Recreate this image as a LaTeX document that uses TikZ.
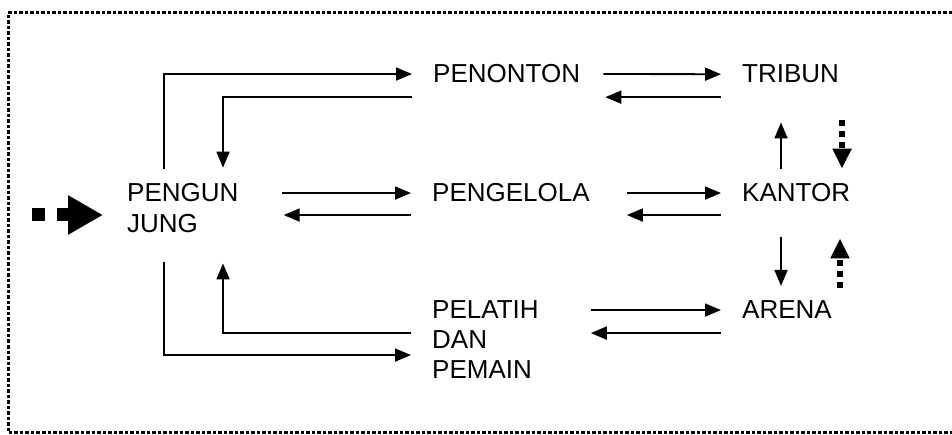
\documentclass[tikz,border=0pt]{standalone}
\usepackage{fontspec}
\setmainfont{Liberation Sans}
\usetikzlibrary{arrows.meta}
\begin{document}
\begin{tikzpicture}[x=1pt,y=-1pt,
  lbl/.style={anchor=base west, inner xsep=21pt, inner ysep=0pt,
    font=\fontsize{26pt}{30pt}\selectfont},
  arr/.style={line width=1.8pt, -{Triangle[length=16pt,width=13pt]}},
  dotarr/.style={line width=6pt, dash pattern=on 6pt off 5pt,
    -{Triangle[length=20pt,width=18pt]}},
  bigarr/.style={line width=13pt, dash pattern=on 13pt off 12pt,
    -{Triangle[length=35pt,width=37pt]}},
  frame/.style={line width=3pt, dash pattern=on 3.5pt off 2pt}
]
\useasboundingbox (0,0) rectangle (952,435);

% outer dotted frame (open on the right)
\draw[frame] (952,13) -- (8,13) -- (8,432) -- (952,432);

% labels
\node[lbl] (pg) at (106,202) {\vtop{\baselineskip=31pt\hbox{PENGUN}\hbox{JUNG}}};
\node[lbl] (pn) at (412,83) {PENONTON};
\node[lbl] (tr) at (721,83) {TRIBUN};
\node[lbl] (pl) at (411,202) {PENGELOLA};
\node[lbl] (ka) at (721,202) {KANTOR};
\node[lbl] (pe) at (411,318) {\vtop{\baselineskip=30pt\hbox{PELATIH}\hbox{DAN}\hbox{PEMAIN}}};
\node[lbl] (ar) at (721,319) {ARENA};

% entry
\coordinate (entry) at (32,215);
\draw[bigarr, shorten >=3pt] (entry) -- (entry -| pg.west);

% pengunjung <-> penonton
\draw[arr] ([shift={(58pt,15pt)}]pg.north west) |- (pn.west);
\draw[arr] ([yshift=-23pt]pn.west) -| ([shift={(117pt,16pt)}]pg.north west);

% pengunjung <-> pengelola
\draw[arr, shorten <=22pt] (pl.west -| pg.east) -- (pl.west);
\draw[arr, shorten >=24pt] ([yshift=-22pt]pl.west) coordinate (t1) -- (t1 -| pg.east);

% pengunjung <-> pelatih dan pemain
\draw[arr] ([shift={(58pt,-29pt)}]pg.south west) |- ([yshift=-16pt]pe.west);
\draw[arr] ([yshift=6pt]pe.west) -| ([shift={(117pt,-30pt)}]pg.south west);

% penonton <-> tribun
\draw[arr, shorten <=2pt] (pn.east) -- (tr.west);
\draw[arr, shorten >=4pt] ([yshift=-23pt]tr.west) coordinate (t2) -- (t2 -| pn.east);

% pengelola <-> kantor
\draw[arr, shorten <=16pt] (pl.east) -- (ka.west);
\draw[arr, shorten >=16pt] ([yshift=-22pt]ka.west) coordinate (t3) -- (t3 -| pl.east);

% pelatih dan pemain <-> arena
\draw[arr, shorten <=31pt] (pe.east |- ar.west) -- (ar.west);
\draw[arr, shorten >=31pt] ([yshift=-23pt]ar.west) coordinate (t4) -- (t4 -| pe.east);

% kantor <-> tribun
\draw[arr, shorten <=15pt, shorten >=39pt] ([xshift=60pt]ka.north west) -- ([xshift=60pt]tr.south west);
\draw[dotarr, shorten <=37pt, shorten >=15pt] ([xshift=121pt]tr.south west) -- ([xshift=121pt]ka.north west);

% kantor <-> arena
\draw[arr, shorten <=35pt, shorten >=15pt] ([xshift=60pt]ka.south west) -- ([xshift=60pt]ar.north west);
\draw[dotarr, shorten <=13pt, shorten >=36pt] ([xshift=119pt]ar.north west) -- ([xshift=119pt]ka.south west);
\end{tikzpicture}
\end{document}
